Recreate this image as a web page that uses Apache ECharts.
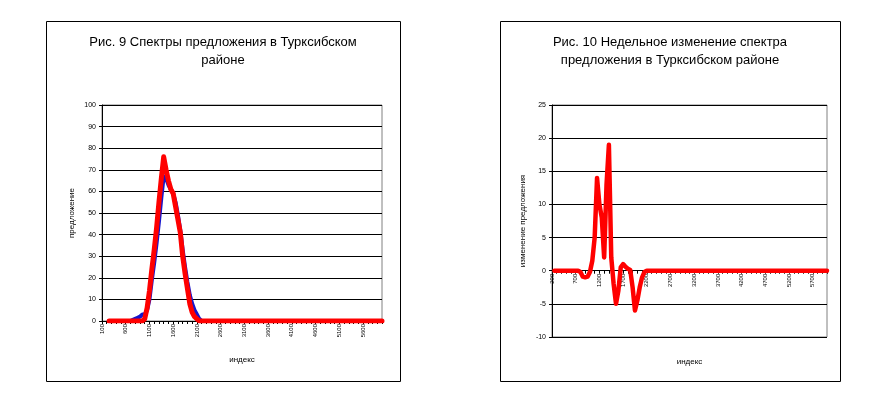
<!DOCTYPE html>
<html>
<head>
<meta charset="utf-8">
<title>Спектры предложения</title>
<script src="https://cdn.jsdelivr.net/npm/echarts@6/dist/echarts.min.js"></script>
<style>
  html, body { margin: 0; padding: 0; background: #fff; }
  #chart { width: 871px; height: 405px; }
</style>
</head>
<body>
<div id="chart"></div>
<script>
// ---- data ----

// Рис. 9: индекс 100..6000 step 50
const indexLeft = [
  100, 150, 200, 250, 300, 350, 400, 450, 500, 550,
  600, 650, 700, 750, 800, 850, 900, 950, 1000, 1050,
  1100, 1150, 1200, 1250, 1300, 1350, 1400, 1450, 1500, 1550,
  1600, 1650, 1700, 1750, 1800, 1850, 1900, 1950, 2000, 2050,
  2100, 2150, 2200, 2250, 2300, 2350, 2400, 2450, 2500, 2550,
  2600, 2650, 2700, 2750, 2800, 2850, 2900, 2950, 3000, 3050,
  3100, 3150, 3200, 3250, 3300, 3350, 3400, 3450, 3500, 3550,
  3600, 3650, 3700, 3750, 3800, 3850, 3900, 3950, 4000, 4050,
  4100, 4150, 4200, 4250, 4300, 4350, 4400, 4450, 4500, 4550,
  4600, 4650, 4700, 4750, 4800, 4850, 4900, 4950, 5000, 5050,
  5100, 5150, 5200, 5250, 5300, 5350, 5400, 5450, 5500, 5550,
  5600, 5650, 5700, 5750, 5800, 5850, 5900, 5950, 6000
];

// previous week (blue)
const supplyPrev = [
  null, null, null, 0, 0, 0, 0, 0, 0, 0,
  0, 0, 0, 0.5, 1, 1.5, 2, 3, 3, 5,
  10, 19, 27, 36, 46, 57, 67, 66, 63, 61,
  59, 55, 49, 42, 33, 25, 18, 12, 8, 5,
  3, 1, 0, 0, 0, 0, 0, 0, 0, 0,
  0, 0, 0, 0, 0, 0, 0, 0, 0, 0,
  0, 0, 0, 0, 0, 0, 0, 0, 0, 0,
  0, 0, 0, 0, 0, 0, 0, 0, 0, 0,
  0, 0, 0, 0, 0, 0, 0, 0, 0, 0,
  0, 0, 0, 0, 0, 0, 0, 0, 0, 0,
  0, 0, 0, 0, 0, 0, 0, 0, 0, 0,
  0, 0, 0, 0, 0, 0, 0, 0, 0
];

// current week (red)
const supplyCur = [
  null, null, null, 0, 0, 0, 0, 0, 0, 0,
  0, 0, 0, 0, 0, 0, 0, 0, 1, 6,
  14, 24, 33, 43, 55, 66, 76, 70, 65, 61,
  59, 53, 47, 41, 30, 22, 15, 8, 4, 2,
  1, 0, 0, 0, 0, 0, 0, 0, 0, 0,
  0, 0, 0, 0, 0, 0, 0, 0, 0, 0,
  0, 0, 0, 0, 0, 0, 0, 0, 0, 0,
  0, 0, 0, 0, 0, 0, 0, 0, 0, 0,
  0, 0, 0, 0, 0, 0, 0, 0, 0, 0,
  0, 0, 0, 0, 0, 0, 0, 0, 0, 0,
  0, 0, 0, 0, 0, 0, 0, 0, 0, 0,
  0, 0, 0, 0, 0, 0, 0, 0, 0
];

// Рис. 10: индекс 200..6000 step 50
const indexRight = [
  200, 250, 300, 350, 400, 450, 500, 550, 600, 650,
  700, 750, 800, 850, 900, 950, 1000, 1050, 1100, 1150,
  1200, 1250, 1300, 1350, 1400, 1450, 1500, 1550, 1600, 1650,
  1700, 1750, 1800, 1850, 1900, 1950, 2000, 2050, 2100, 2150,
  2200, 2250, 2300, 2350, 2400, 2450, 2500, 2550, 2600, 2650,
  2700, 2750, 2800, 2850, 2900, 2950, 3000, 3050, 3100, 3150,
  3200, 3250, 3300, 3350, 3400, 3450, 3500, 3550, 3600, 3650,
  3700, 3750, 3800, 3850, 3900, 3950, 4000, 4050, 4100, 4150,
  4200, 4250, 4300, 4350, 4400, 4450, 4500, 4550, 4600, 4650,
  4700, 4750, 4800, 4850, 4900, 4950, 5000, 5050, 5100, 5150,
  5200, 5250, 5300, 5350, 5400, 5450, 5500, 5550, 5600, 5650,
  5700, 5750, 5800, 5850, 5900, 5950, 6000
];

const weeklyChange = [
  null, 0, 0, 0, 0, 0, 0, 0, 0, 0,
  0, 0, -0.2, -0.9, -1, -0.9, -0.2, 1.5, 5, 14,
  10, 8, 2, 13, 19, 2, -2, -5, -3, 0.5,
  1, 0.6, 0.3, 0.1, -2.5, -6, -4.5, -2.5, -1, -0.2,
  0, 0, 0, 0, 0, 0, 0, 0, 0, 0,
  0, 0, 0, 0, 0, 0, 0, 0, 0, 0,
  0, 0, 0, 0, 0, 0, 0, 0, 0, 0,
  0, 0, 0, 0, 0, 0, 0, 0, 0, 0,
  0, 0, 0, 0, 0, 0, 0, 0, 0, 0,
  0, 0, 0, 0, 0, 0, 0, 0, 0, 0,
  0, 0, 0, 0, 0, 0, 0, 0, 0, 0,
  0, 0, 0, 0, 0, 0, 0
];

// ---- chart ----
const FONT = '"Liberation Sans", Arial, sans-serif';
const chart = echarts.init(document.getElementById('chart'), null, { renderer: 'canvas' });

const catAxis = (gridIndex, data) => ({
  type: 'category',
  gridIndex: gridIndex,
  data: data,
  boundaryGap: false,
  name: 'индекс',
  nameLocation: 'middle',
  nameTextStyle: { fontFamily: FONT, fontSize: 8, color: '#000' },
  axisLine: { show: true, onZero: false, lineStyle: { color: '#000', width: 1 } },
  axisTick: { show: true, interval: 1, length: 3, inside: false, lineStyle: { color: '#000' } },
  axisLabel: { interval: 9, rotate: 90, fontSize: 6, margin: 3, color: '#000', fontFamily: FONT },
  splitLine: { show: false }
});

const valAxis = (gridIndex, min, max, step, name, gap) => ({
  type: 'value',
  gridIndex: gridIndex,
  min: min,
  max: max,
  interval: step,
  name: name,
  nameLocation: 'middle',
  nameGap: gap,
  nameTextStyle: { fontFamily: FONT, fontSize: 8, color: '#000' },
  axisLine: { show: true, onZero: false, lineStyle: { color: '#000', width: 1 } },
  axisTick: { show: true, length: 3, lineStyle: { color: '#000' } },
  axisLabel: { fontSize: 7, margin: 6, color: '#000', fontFamily: FONT },
  splitLine: { show: true, lineStyle: { color: '#000', width: 1 } }
});

const leftX = catAxis(0, indexLeft);
leftX.nameGap = 35;
// right chart: axis crosses at 0, i.e. 2/7 of the plot height above the bottom
const rightX = catAxis(1, indexRight);
rightX.position = 'bottom';
rightX.offset = -232 * 10 / 35;
rightX.nameGap = 87;

const option = {
  animation: false,
  backgroundColor: '#fff',
  title: [
    {
      text: 'Рис. 9 Спектры предложения в Турксибском\nрайоне',
      left: 223, top: 33, textAlign: 'center', padding: 0,
      textStyle: { fontFamily: FONT, fontSize: 13, fontWeight: 'normal', color: '#000', lineHeight: 18 }
    },
    {
      text: 'Рис. 10 Недельное изменение спектра\nпредложения в Турксибском районе',
      left: 670, top: 33, textAlign: 'center', padding: 0,
      textStyle: { fontFamily: FONT, fontSize: 13, fontWeight: 'normal', color: '#000', lineHeight: 18 }
    }
  ],
  graphic: [
    { type: 'rect', shape: { x: 46.5, y: 21.5, width: 354, height: 360 },
      style: { fill: 'none', stroke: '#000', lineWidth: 1 }, z: 100 },
    { type: 'rect', shape: { x: 500.5, y: 21.5, width: 340, height: 360 },
      style: { fill: 'none', stroke: '#000', lineWidth: 1 }, z: 100 }
  ],
  grid: [
    { left: 102, top: 105, width: 280, height: 216, show: true, borderColor: '#808080', borderWidth: 1, backgroundColor: 'transparent' },
    { left: 552, top: 105, width: 275, height: 232, show: true, borderColor: '#808080', borderWidth: 1, backgroundColor: 'transparent' }
  ],
  xAxis: [leftX, rightX],
  yAxis: [
    valAxis(0, 0, 100, 10, 'предложение', 26),
    valAxis(1, -10, 25, 5, 'изменение предложения', 25)
  ],
  series: [
    {
      type: 'line', xAxisIndex: 0, yAxisIndex: 0, data: supplyPrev,
      showSymbol: false, symbol: 'none', clip: true,
      lineStyle: { color: '#1515cc', width: 4, cap: 'round', join: 'round' }
    },
    {
      type: 'line', xAxisIndex: 0, yAxisIndex: 0, data: supplyCur,
      showSymbol: false, symbol: 'none', clip: true,
      lineStyle: { color: '#ff0000', width: 5, cap: 'round', join: 'round' }
    },
    {
      type: 'line', xAxisIndex: 1, yAxisIndex: 1, data: weeklyChange,
      showSymbol: false, symbol: 'none', clip: true,
      lineStyle: { color: '#ff0000', width: 4.5, cap: 'round', join: 'round' }
    }
  ]
};

chart.setOption(option);
</script>
</body>
</html>
